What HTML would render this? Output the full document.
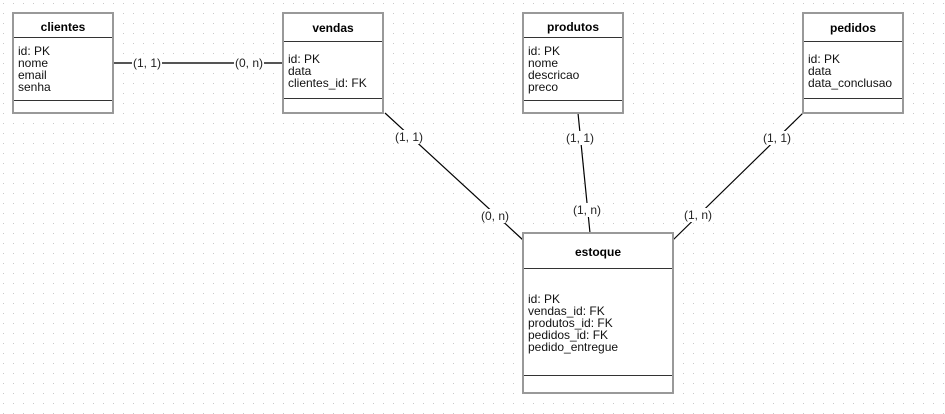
<!DOCTYPE html>
<html><head><meta charset="utf-8"><style>
html,body{margin:0;padding:0;background:#fff;}
svg{display:block;font-family:"Liberation Sans","DejaVu Sans",sans-serif;}
</style></head><body>
<svg width="945" height="414" viewBox="0 0 945 414" xmlns="http://www.w3.org/2000/svg">
<defs><pattern id="g" width="10" height="10" patternUnits="userSpaceOnUse" x="3" y="3"><rect x="0" y="0" width="1" height="1" fill="#c8c8c8"/></pattern></defs>
<rect width="945" height="414" fill="url(#g)"/>
<g stroke="#000" stroke-width="1.2" fill="none">
<line x1="113" y1="63" x2="283" y2="63" stroke="#555" stroke-width="2"/>
<line x1="385" y1="113" x2="523" y2="240"/>
<line x1="578" y1="113" x2="590" y2="233"/>
<line x1="803" y1="113" x2="673" y2="240"/>
</g>
<g font-size="12" fill="#222" text-anchor="middle">
<rect x="132" y="56" width="30" height="14" fill="#fff"/><text x="147" y="67">(1, 1)</text>
<rect x="234" y="56" width="30" height="14" fill="#fff"/><text x="249" y="67">(0, n)</text>
<rect x="394" y="130" width="30" height="14" fill="#fff"/><text x="409" y="141">(1, 1)</text>
<rect x="480" y="209" width="30" height="14" fill="#fff"/><text x="495" y="220">(0, n)</text>
<rect x="565" y="131" width="30" height="14" fill="#fff"/><text x="580" y="142">(1, 1)</text>
<rect x="572" y="203" width="30" height="14" fill="#fff"/><text x="587" y="214">(1, n)</text>
<rect x="762" y="131" width="30" height="14" fill="#fff"/><text x="777" y="142">(1, 1)</text>
<rect x="683" y="208" width="30" height="14" fill="#fff"/><text x="698" y="219">(1, n)</text>
</g>
<g stroke="#999" stroke-width="2" fill="#fff">
<rect x="13" y="13" width="100" height="100"/>
<rect x="283" y="13" width="100" height="100"/>
<rect x="523" y="13" width="100" height="100"/>
<rect x="803" y="13" width="100" height="100"/>
<rect x="523" y="233" width="150" height="160"/>
</g>
<g stroke="#333" stroke-width="1">
<line x1="14" y1="37.5" x2="112" y2="37.5"/><line x1="14" y1="100.5" x2="112" y2="100.5"/>
<line x1="284" y1="41.5" x2="382" y2="41.5"/><line x1="284" y1="98.5" x2="382" y2="98.5"/>
<line x1="524" y1="37.5" x2="622" y2="37.5"/><line x1="524" y1="100.5" x2="622" y2="100.5"/>
<line x1="804" y1="41.5" x2="902" y2="41.5"/><line x1="804" y1="98.5" x2="902" y2="98.5"/>
<line x1="524" y1="268.5" x2="672" y2="268.5"/><line x1="524" y1="375.5" x2="672" y2="375.5"/>
</g>
<g font-size="12" font-weight="bold" fill="#000" text-anchor="middle">
<text x="63" y="31">clientes</text>
<text x="333" y="32">vendas</text>
<text x="573" y="31">produtos</text>
<text x="853" y="32">pedidos</text>
<text x="598" y="256">estoque</text>
</g>
<g font-size="12" fill="#111">
<text x="18" y="55">id: PK</text><text x="18" y="67">nome</text><text x="18" y="79">email</text><text x="18" y="91">senha</text>
<text x="288" y="63">id: PK</text><text x="288" y="75">data</text><text x="288" y="87">clientes_id: FK</text>
<text x="528" y="55">id: PK</text><text x="528" y="67">nome</text><text x="528" y="79">descricao</text><text x="528" y="91">preco</text>
<text x="808" y="63">id: PK</text><text x="808" y="75">data</text><text x="808" y="87">data_conclusao</text>
<text x="528" y="303">id: PK</text><text x="528" y="315">vendas_id: FK</text><text x="528" y="327">produtos_id: FK</text><text x="528" y="339">pedidos_id: FK</text><text x="528" y="351">pedido_entregue</text>
</g>
</svg>
</body></html>
